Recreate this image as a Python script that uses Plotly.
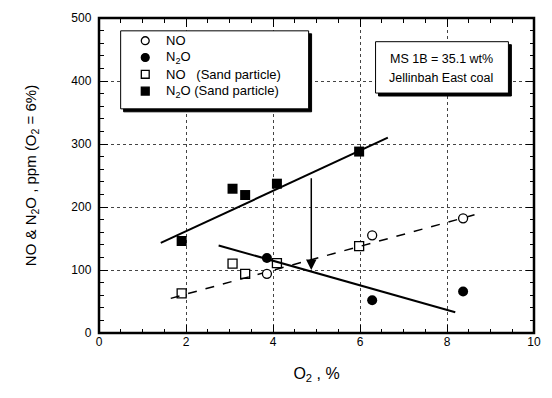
import plotly.graph_objects as go

# Measured points (O2 %, ppm at O2 = 6%)
no_x = [3.86, 6.28, 8.37]
no_y = [94, 155, 182]
n2o_x = [3.86, 6.28, 8.37]
n2o_y = [119, 52, 66]
no_sand_x = [1.9, 3.07, 3.36, 4.09, 5.98]
no_sand_y = [63, 110, 94, 111, 138]
n2o_sand_x = [1.9, 3.07, 3.36, 4.09, 5.98]
n2o_sand_y = [146, 229, 219, 237, 288]

# Trend lines (end points)
fit_n2o_sand_x = [1.42, 6.64]
fit_n2o_sand_y = [143, 310]
fit_n2o_x = [2.75, 8.19]
fit_n2o_y = [139, 33]
fit_no_x = [1.65, 8.76]
fit_no_y = [55, 190]

# Arrow marking the N2O reduction
arrow_x = 4.88
arrow_from = 248
arrow_to = 100

legend_labels = ["NO", "N<sub>2</sub>O",
                 "NO\u00a0\u00a0\u00a0(Sand particle)", "N<sub>2</sub>O (Sand particle)"]
note_lines = ["MS 1B = 35.1 wt%", "Jellinbah East coal"]

X_RANGE = [0, 10]
Y_RANGE = [0, 500]

FONT = "Arial"

fig = go.Figure()

# traces spread over the tick-carrying axis pairs (all share the same ranges)
fig.add_trace(go.Scatter(x=fit_n2o_sand_x, y=fit_n2o_sand_y, mode="lines",
                         xaxis="x2", yaxis="y2",
                         line=dict(color="black", width=2), hoverinfo="skip"))
fig.add_trace(go.Scatter(x=fit_n2o_x, y=fit_n2o_y, mode="lines",
                         xaxis="x3", yaxis="y3",
                         line=dict(color="black", width=2), hoverinfo="skip"))
fig.add_trace(go.Scatter(x=fit_no_x, y=fit_no_y, mode="lines",
                         xaxis="x4", yaxis="y4",
                         line=dict(color="black", width=1.5, dash="dash"), hoverinfo="skip"))

fig.add_trace(go.Scatter(x=no_x, y=no_y, mode="markers",
                         xaxis="x5", yaxis="y5",
                         marker=dict(symbol="circle", size=9, color="white",
                                     line=dict(color="black", width=1.3))))
fig.add_trace(go.Scatter(x=n2o_x, y=n2o_y, mode="markers",
                         marker=dict(symbol="circle", size=10, color="black",
                                     line=dict(color="black", width=0))))
fig.add_trace(go.Scatter(x=no_sand_x, y=no_sand_y, mode="markers",
                         marker=dict(symbol="square", size=9, color="white",
                                     line=dict(color="black", width=1.3))))
fig.add_trace(go.Scatter(x=n2o_sand_x, y=n2o_sand_y, mode="markers",
                         marker=dict(symbol="square", size=10, color="black",
                                     line=dict(color="black", width=0))))

# plot area in pixels: x 99..541, y 14..333
W, H = 552, 398
L, R, T, B = 99, 11, 14, 65
pw, ph = W - L - R, H - T - B


def px(v):
    return (v - L) / pw


def py(v):
    return (H - B - v) / ph


shapes = []
annotations = []

# plot frame
shapes.append(dict(type="rect", xref="x domain", yref="y domain", layer="above",
                   x0=0, x1=1, y0=0, y1=1, line=dict(color="black", width=2.5)))

# framed boxes with drop shadow: key box and note box
for (x0, y0, x1, y1) in [(121, 27, 312, 106), (380, 38, 515, 90)]:
    shapes.append(dict(type="rect", xref="paper", yref="paper", layer="above",
                       x0=px(x0 + 3), x1=px(x1 + 3), y0=py(y1 + 3), y1=py(y0 + 3),
                       fillcolor="black", line=dict(color="black", width=1)))
    shapes.append(dict(type="rect", xref="paper", yref="paper", layer="above",
                       x0=px(x0), x1=px(x1), y0=py(y1), y1=py(y0),
                       fillcolor="white", line=dict(color="black", width=1)))

# key entries: symbol + label
rows_y = [37, 54, 71, 88]
sym_x = 146
r = 4
for i, (lab, yy) in enumerate(zip(legend_labels, rows_y)):
    kind = "circle" if i < 2 else "rect"
    fill = "white" if i % 2 == 0 else "black"
    shapes.append(dict(type=kind, xref="paper", yref="paper", layer="above",
                       x0=px(sym_x - r), x1=px(sym_x + r), y0=py(yy + r), y1=py(yy - r),
                       fillcolor=fill, line=dict(color="black", width=1.3)))
    annotations.append(dict(xref="paper", yref="paper", x=px(165), y=py(yy),
                            xanchor="left", yanchor="middle", text=lab, showarrow=False,
                            font=dict(family=FONT, size=13, color="black")))

for txt, yy in zip(note_lines, [56, 75]):
    annotations.append(dict(xref="paper", yref="paper", x=px(447), y=py(yy),
                            xanchor="center", yanchor="middle", text=txt, showarrow=False,
                            font=dict(family=FONT, size=12.5, color="black")))

annotations.append(dict(x=arrow_x, y=arrow_to, ax=arrow_x, ay=arrow_from, xref="x", yref="y",
                        axref="x", ayref="y", showarrow=True, arrowhead=2, arrowsize=1.4,
                        arrowwidth=1.5, arrowcolor="black", text=""))


def inward_ticks(rng, step, length, overlay, side, pos):
    # an axis placed on the opposite edge so its "outside" ticks point into the plot
    return dict(range=rng, dtick=step, tick0=0, ticks="outside", ticklen=length,
                tickwidth=1.3, tickcolor="black", showline=False, zeroline=False,
                showticklabels=False, showgrid=False, overlaying=overlay, side=side,
                anchor="free", position=pos, automargin=False)


grid_on = dict(showgrid=True, gridcolor="#444", griddash="dot", gridwidth=1)

fig.update_layout(
    width=W, height=H,
    margin=dict(l=L, r=R, t=T, b=B),
    paper_bgcolor="white", plot_bgcolor="white",
    font=dict(family=FONT, color="black"),
    showlegend=False,
    xaxis=dict(range=X_RANGE, dtick=2, tick0=0, ticks="", showline=False, zeroline=False,
               title=dict(text="O<sub>2</sub> , %",
                          font=dict(family=FONT, size=16, color="black"), standoff=19),
               tickfont=dict(family=FONT, size=12, color="black"), **grid_on),
    yaxis=dict(range=Y_RANGE, dtick=100, tick0=0, ticks="", showline=False, zeroline=False,
               title=dict(text="NO & N<sub>2</sub>O , ppm (O<sub>2</sub> = 6%)",
                          font=dict(family=FONT, size=15, color="black"), standoff=31),
               ticksuffix="  ",
               tickfont=dict(family=FONT, size=12, color="black"), **grid_on),
    # bottom / left edges: major and minor ticks
    xaxis2=inward_ticks(X_RANGE, 2, 8, "x", "top", 0),
    yaxis2=inward_ticks(Y_RANGE, 100, 8, "y", "right", 0),
    xaxis3=inward_ticks(X_RANGE, 0.5, 4, "x", "top", 0),
    yaxis3=inward_ticks(Y_RANGE, 20, 4, "y", "right", 0),
    # top / right edges: major and minor ticks
    xaxis4=inward_ticks(X_RANGE, 2, 8, "x", "bottom", 1),
    yaxis4=inward_ticks(Y_RANGE, 100, 8, "y", "left", 1),
    xaxis5=inward_ticks(X_RANGE, 0.5, 4, "x", "bottom", 1),
    yaxis5=inward_ticks(Y_RANGE, 20, 4, "y", "left", 1),
    shapes=shapes,
    annotations=annotations,
)

fig.write_html("out.html")
